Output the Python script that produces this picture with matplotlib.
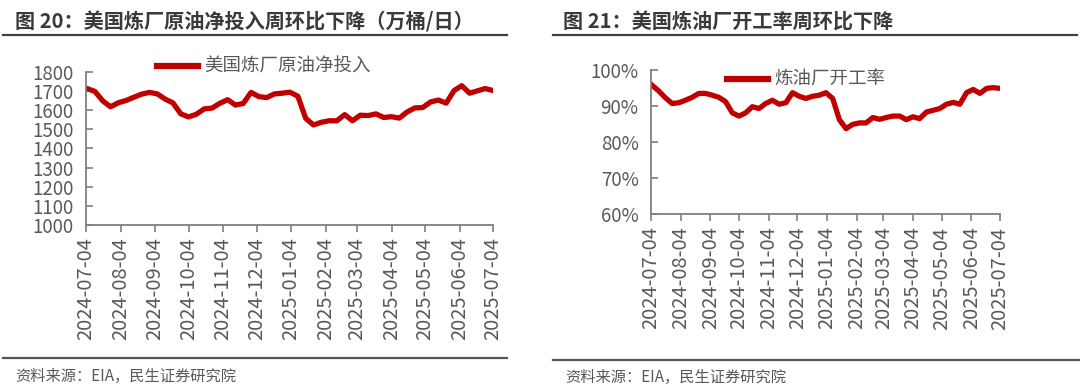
import matplotlib
matplotlib.use("Agg")
import matplotlib.pyplot as plt
from matplotlib.lines import Line2D
import pandas as pd

plt.rcParams['font.family'] = ['Noto Sans CJK SC', 'DejaVu Sans']

# ---------------- data ----------------
week_start = "2024-07-05"
week_count = 53
crude_input = [1712, 1697, 1648, 1617, 1638, 1650, 1667, 1683, 1692, 1684,
               1657, 1637, 1580, 1564, 1578, 1606, 1610, 1635, 1654, 1626,
               1634, 1692, 1670, 1665, 1684, 1688, 1693, 1672, 1557, 1522,
               1536, 1544, 1544, 1576, 1544, 1573, 1571, 1580, 1561, 1565,
               1558, 1590, 1611, 1613, 1642, 1652, 1636, 1701, 1727, 1688,
               1700, 1712, 1702]
utilization = [95.8, 94.2, 92.3, 90.7, 90.9, 91.6, 92.4, 93.5, 93.5, 93.0,
               92.4, 91.2, 88.1, 87.2, 88.1, 89.8, 89.3, 90.7, 91.6, 90.5,
               90.9, 93.7, 92.7, 92.1, 92.7, 93.0, 93.7, 92.1, 86.2, 83.7,
               84.9, 85.3, 85.3, 86.8, 86.3, 86.8, 87.2, 87.2, 86.2, 87.0,
               86.5, 88.3, 88.8, 89.3, 90.5, 91.0, 90.5, 93.7, 94.6, 93.5,
               94.9, 95.1, 94.9]
tick_labels = ["2024-07-04", "2024-08-04", "2024-09-04", "2024-10-04",
               "2024-11-04", "2024-12-04", "2025-01-04", "2025-02-04",
               "2025-03-04", "2025-04-04", "2025-05-04", "2025-06-04",
               "2025-07-04"]
left_yticks = [1000, 1100, 1200, 1300, 1400, 1500, 1600, 1700, 1800]
right_yticks = [60, 70, 80, 90, 100]

title_left = "图 20：美国炼厂原油净投入周环比下降（万桶/日）"
title_right = "图 21：美国炼油厂开工率周环比下降"
legend_left = "美国炼厂原油净投入"
legend_right = "炼油厂开工率"
source_text = "资料来源：EIA，民生证券研究院"

dates = pd.date_range(week_start, periods=week_count, freq="7D")
tick_dates = pd.to_datetime(tick_labels)

# ---------------- style ----------------
W, H = 1080, 387
RED = "#C00000"
TXT = "#595959"
AX = "#7F7F7F"
TITLE = "#3A3A3A"

fig = plt.figure(figsize=(W / 100, H / 100), dpi=100)
fig.patch.set_facecolor("white")


def fx(px):
    return px / W


def fy(py):
    return 1 - py / H


def make_axes(x0, x1, y0, y1):
    ax = fig.add_axes([fx(x0), fy(y1), fx(x1) - fx(x0), fy(y0) - fy(y1)])
    for s in ("top", "right"):
        ax.spines[s].set_visible(False)
    for s in ("left", "bottom"):
        ax.spines[s].set_color(AX)
        ax.spines[s].set_linewidth(1.3)
    ax.tick_params(axis="y", direction="in", length=5, width=1.2, color=AX,
                   labelsize=13.5, labelcolor=TXT, pad=9)
    ax.tick_params(axis="x", direction="out", length=5, width=1.2, color=AX,
                   labelsize=14.5, labelcolor=TXT, pad=4)
    ax.set_xlim(tick_dates[0], tick_dates[-1])
    ax.set_xticks(tick_dates)
    ax.set_xticklabels(tick_labels, rotation=90)
    ax.set_facecolor("none")
    return ax


# left chart
axL = make_axes(86, 493, 71.7, 225)
axL.plot(dates, crude_input, color=RED, lw=3.8, solid_joinstyle="round")
axL.set_ylim(1000, 1800)
axL.set_yticks(left_yticks)
axL.set_yticklabels([str(v) for v in left_yticks])

# right chart
axR = make_axes(651, 1000, 70, 214)
axR.plot(dates, utilization, color=RED, lw=3.8, solid_joinstyle="round")
axR.set_ylim(60, 100)
axR.set_yticks(right_yticks)
axR.set_yticklabels([f"{v}%" for v in right_yticks])

# legends
for (lx, ly, lab) in ((157, 67, legend_left), (727, 80, legend_right)):
    h = Line2D([], [], color=RED, lw=4.5)
    fig.legend([h], [lab], loc="center left", bbox_to_anchor=(fx(lx), fy(ly)),
               frameon=False, fontsize=13.3, labelcolor=TXT, handlelength=2.2,
               handletextpad=0.35, borderpad=0, borderaxespad=0)

# titles and rules
fig.text(fx(15), fy(22), title_left, fontsize=14.5, fontweight="bold",
         color=TITLE, va="center", ha="left")
fig.text(fx(563), fy(22), title_right, fontsize=14.5, fontweight="bold",
         color=TITLE, va="center", ha="left")
for (a, b) in ((3, 507), (553, 1077)):
    fig.add_artist(Line2D([fx(a), fx(b)], [fy(35), fy(35)], color="#404040", lw=1.6))
for (a, b, yy) in ((3, 507, 358), (553, 1080, 360)):
    fig.add_artist(Line2D([fx(a), fx(b)], [fy(yy), fy(yy)], color="#555555", lw=1.6))

fig.text(fx(15), fy(376), source_text, fontsize=11, color=TXT, va="center", ha="left")
fig.text(fx(565), fy(377), source_text, fontsize=11, color=TXT, va="center", ha="left")

fig.savefig("out.png", dpi=100, facecolor="white")
